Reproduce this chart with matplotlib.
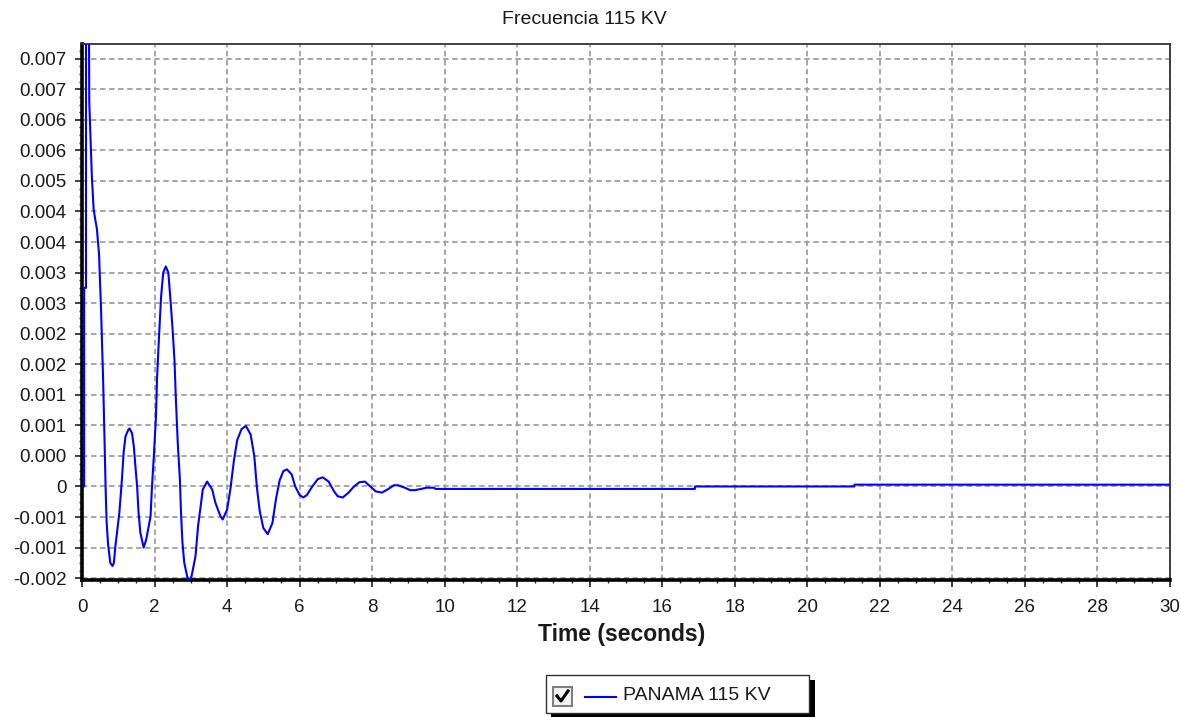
import matplotlib.pyplot as plt
from matplotlib.patches import Rectangle
from matplotlib.lines import Line2D
from matplotlib.ticker import MultipleLocator

plt.rcParams['font.family'] = ['Liberation Sans', 'DejaVu Sans']

# time (s) and frequency deviation
time_s = [0.00, 0.06, 0.06, 0.11, 0.11, 0.18, 0.20, 0.27, 0.32, 0.365, 0.41, 0.47, 0.525,
          0.58, 0.62, 0.65, 0.68, 0.72, 0.78, 0.84, 0.88, 0.92, 1.03, 1.10, 1.15, 1.20,
          1.27, 1.31, 1.38, 1.43, 1.47, 1.52, 1.56, 1.61, 1.70, 1.77, 1.89, 1.93, 1.98,
          2.04, 2.07, 2.12, 2.18, 2.24, 2.31, 2.38, 2.43, 2.49, 2.55, 2.59, 2.64, 2.70,
          2.73, 2.77, 2.82, 2.90, 2.95, 3.02, 3.13, 3.20, 3.27, 3.33, 3.45, 3.59, 3.68,
          3.82, 3.88, 4.00, 4.09, 4.19, 4.28, 4.40, 4.52, 4.65, 4.75, 4.82, 4.90, 5.00,
          5.12, 5.25, 5.35, 5.45, 5.55, 5.65, 5.78, 5.88, 6.00, 6.10, 6.20, 6.35, 6.50,
          6.64, 6.80, 6.95, 7.05, 7.19, 7.35, 7.50, 7.65, 7.80, 7.95, 8.10, 8.27, 8.45,
          8.60, 8.71, 8.90, 9.05, 9.18, 9.35, 9.50, 9.70, 9.75, 16.90, 16.90, 21.30,
          21.30, 30.00]
freq_dev = [0.0, 0.0, 0.00325, 0.00325, 0.0095, 0.0095, 0.0063, 0.0051, 0.00454, 0.00437,
            0.00422, 0.0038, 0.0029, 0.0018, 0.0008, 0.0, -0.0006, -0.00095, -0.00125,
            -0.0013, -0.00125, -0.00098, -0.00043, 0.00011, 0.00057, 0.00082, 0.00092,
            0.00095, 0.00087, 0.00065, 0.00035, 0.0, -0.00043, -0.00076, -0.001, -0.00087,
            -0.00049, 0.0, 0.00049, 0.00115, 0.00178, 0.00241, 0.0031, 0.0035, 0.0036,
            0.0035, 0.00313, 0.00264, 0.00207, 0.00141, 0.00072, 0.00011, -0.00043,
            -0.00092, -0.00125, -0.00147, -0.00155, -0.00147, -0.00114, -0.00065,
            -0.00033, -0.00005, 0.00008, -0.00005, -0.00027, -0.00049, -0.00054,
            -0.00038, -0.00005, 0.00043, 0.00076, 0.00094, 0.00099, 0.00085, 0.0005,
            0.0, -0.0004, -0.00068, -0.00078, -0.0006, -0.0002, 0.0001, 0.00025, 0.00028,
            0.0002, 0.0, -0.00014, -0.00018, -0.00014, 0.0, 0.00012, 0.00015, 0.00008,
            -0.00008, -0.00016, -0.00018, -0.0001, 0.0, 0.00007, 0.00008, 0.0, -0.00008,
            -0.0001, -0.00004, 0.00002, 0.00002, -0.00002, -0.00006, -0.00006, -0.00004,
            -0.00002, -0.00002, -0.00004, -0.00004, 0.0, 0.0, 0.00003, 0.00003]

ytick_labels = ['-0.002', '-0.001', '-0.001', '0', '0.000', '0.001', '0.001', '0.002',
                '0.002', '0.003', '0.003', '0.004', '0.004', '0.005', '0.006', '0.006',
                '0.007', '0.007']
series_name = 'PANAMA 115 KV'

W, H = 1181, 717
fig = plt.figure(figsize=(W / 100, H / 100), dpi=100)
ax = fig.add_axes([82 / W, 1 - 580 / H, (1170 - 82) / W, (580 - 44) / H])

ax.plot(time_s, freq_dev, color='#0000ff', lw=1.5, zorder=3)

ax.set_xlim(0, 30)
ax.set_ylim(-0.00153, 0.00724)
ax.set_xticks(range(0, 31, 2))
ax.xaxis.set_minor_locator(MultipleLocator(0.5))
yt = [k * 0.0005 for k in range(-3, 15)]
ax.set_yticks(yt)
ax.set_yticklabels(ytick_labels)
ax.yaxis.set_minor_locator(MultipleLocator(0.000125))

ax.grid(True, which='major', color='#a0a0a0', lw=1.3, dashes=(3, 2))
ax.tick_params(which='major', direction='out', length=5, width=1.2, color='#202020',
               labelsize=13.5, labelcolor='#1a1a1a', pad=6)
ax.tick_params(which='minor', direction='out', length=2.5, width=1, color='#202020')
ax.tick_params(axis='x', pad=9)

for s in ['left', 'bottom']:
    ax.spines[s].set_linewidth(2.6)
    ax.spines[s].set_color('black')
for s in ['top', 'right']:
    ax.spines[s].set_linewidth(1.3)
    ax.spines[s].set_color('#333333')

fig.text(584 / W, 1 - 19 / H, 'Frecuencia 115 KV', ha='center', va='center',
         fontsize=14, color='#1a1a1a')
fig.text(622 / W, 1 - 635 / H, 'Time (seconds)', ha='center', va='center',
         fontsize=16.5, fontweight='bold', color='#1a1a1a')

# legend box with shadow
fig.patches.append(Rectangle((551 / W, 1 - 718 / H), 264 / W, 38 / H, transform=fig.transFigure,
                             facecolor='black', edgecolor='none', zorder=1))
fig.patches.append(Rectangle((546 / W, 1 - 713 / H), 263 / W, 38 / H, transform=fig.transFigure,
                             facecolor='white', edgecolor='#303030', lw=1, zorder=2))
# checkbox
fig.patches.append(Rectangle((553 / W, 1 - 706 / H), 19 / W, 19 / H, transform=fig.transFigure,
                             facecolor='#f4f4f4', edgecolor='#808080', lw=1.5, zorder=3))
fig.lines.append(Line2D([557 / W, 561 / W, 568 / W], [1 - 696 / H, 1 - 701 / H, 1 - 691 / H],
                        transform=fig.transFigure, color='black', lw=2.2, zorder=4))
fig.lines.append(Line2D([585 / W, 616 / W], [1 - 697 / H, 1 - 697 / H],
                        transform=fig.transFigure, color='#0000ff', lw=1.5, zorder=4))
fig.text(623 / W, 1 - 696 / H, series_name, ha='left', va='center', fontsize=14,
         color='#1a1a1a', zorder=4)

fig.savefig('out.png', dpi=100)
